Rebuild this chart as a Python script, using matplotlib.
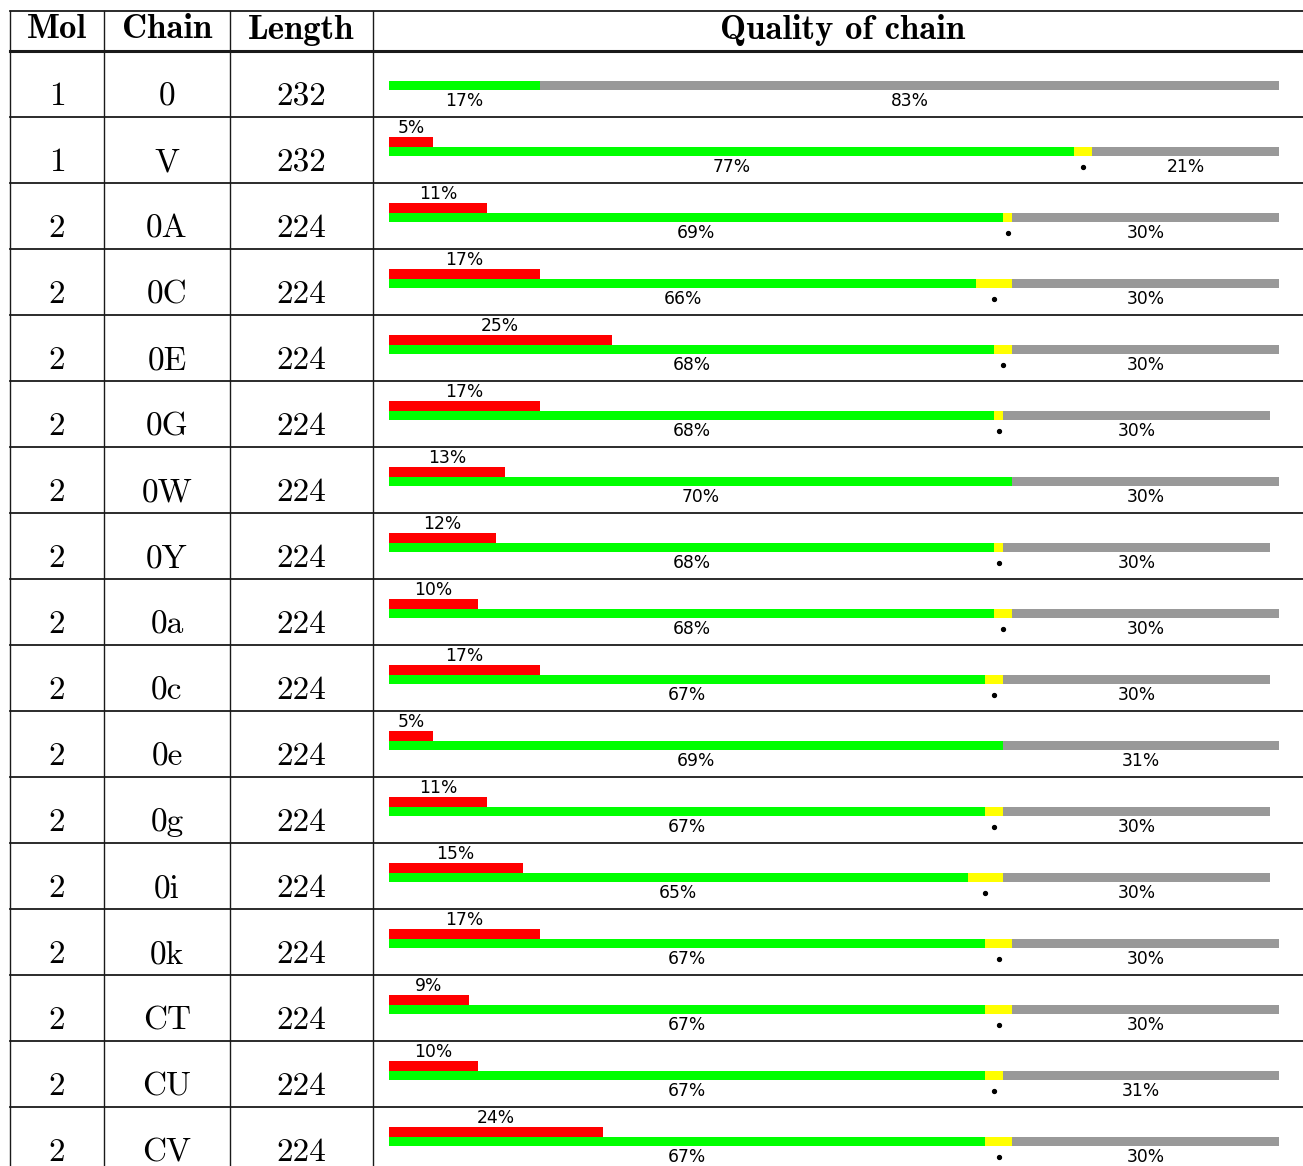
import matplotlib
matplotlib.use("Agg")
import matplotlib.pyplot as plt

# Per-chain summary
mol = [1, 1, 2, 2, 2, 2, 2, 2, 2, 2, 2, 2, 2, 2, 2, 2, 2]
chains = ["0", "V", "0A", "0C", "0E", "0G", "0W", "0Y", "0a", "0c",
          "0e", "0g", "0i", "0k", "CT", "CU", "CV"]
lengths = [232, 232, 224, 224, 224, 224, 224, 224, 224, 224,
           224, 224, 224, 224, 224, 224, 224]

# Quality breakdown (percent of residues)
red_pct = [0, 5, 11, 17, 25, 17, 13, 12, 10, 17, 5, 11, 15, 17, 9, 10, 24]
green_pct = [17, 77, 69, 66, 68, 68, 70, 68, 68, 67, 69, 67, 65, 67, 67, 67, 67]
yellow_pct = [0, 2, 1, 4, 2, 1, 0, 1, 2, 2, 0, 2, 4, 3, 3, 2, 3]
grey_pct = [83, 21, 30, 30, 30, 30, 30, 30, 30, 30, 31, 30, 30, 30, 30, 31, 30]

headers = ["Mol", "Chain", "Length", "Quality of chain"]

W, H = 1303, 1166
ROW_H = 66.0
TOP = 51.0  # pixel y of the header's lower rule


def row_of(py):
    return (py - TOP) / ROW_H


fig = plt.figure(figsize=(W / 100, H / 100), dpi=100)

# --- table grid and cell text -------------------------------------------
tab = fig.add_axes([0, 0, 1, 1])
tab.set_xlim(0, W)
tab.set_ylim(row_of(H), row_of(0))
tab.axis("off")

col_edges = [10, 104, 230, 373, 1313]
line_col = "#1a1a1a"
y_top = row_of(11)
y_bot = row_of(H + 5)
for x in col_edges[:-1]:
    tab.plot([x, x], [y_top, y_bot], color=line_col, lw=1.0, clip_on=False)
tab.plot([10, W], [y_top, y_top], color=line_col, lw=1.3)
tab.plot([10, W], [row_of(50.5), row_of(50.5)], color=line_col, lw=2.2)
n = len(chains)
for i in range(1, n):
    tab.plot([10, W], [i, i], color=line_col, lw=1.3)

centers = [(col_edges[k] + col_edges[k + 1]) / 2 for k in range(4)]
for k, h in enumerate(headers):
    tab.text(centers[k], row_of(38.5), h, ha="center", va="baseline",
             fontfamily="cmb10", fontsize=25, color="black")

for i in range(n):
    yb = i + 54.0 / ROW_H
    for k, val in enumerate([mol[i], chains[i], lengths[i]]):
        tab.text(centers[k], yb, str(val), ha="center", va="baseline",
                 fontfamily="cmr10", fontsize=24, color="black")

# --- quality bars --------------------------------------------------------
bx0, bx1 = 389, 1279
bars = fig.add_axes([bx0 / W, 0, (bx1 - bx0) / W, 1])
bars.set_xlim(0, 100)
bars.set_ylim(row_of(H), row_of(0))
bars.axis("off")

rows = list(range(n))
g_y = [r + 34.4 / ROW_H for r in rows]
r_y = [r + 25.0 / ROW_H for r in rows]
bh = 9.4 / ROW_H

yellow_left = [g for g in green_pct]
grey_left = [g + y for g, y in zip(green_pct, yellow_pct)]

bars.barh(g_y, green_pct, height=bh, left=0, color="#00ff00", linewidth=0)
bars.barh(g_y, yellow_pct, height=bh, left=yellow_left, color="#ffff00", linewidth=0)
bars.barh(g_y, grey_pct, height=bh, left=grey_left, color="#999999", linewidth=0)
bars.barh(r_y, red_pct, height=bh, left=0, color="#ff0000", linewidth=0)

lab_kw = dict(ha="center", va="baseline", fontsize=12.3,
              fontfamily="DejaVu Sans", color="black", clip_on=False)
for i in rows:
    base = i + 55.0 / ROW_H
    bars.text(green_pct[i] / 2, base, f"{green_pct[i]}%", **lab_kw)
    bars.text(grey_left[i] + grey_pct[i] / 2, base, f"{grey_pct[i]}%", **lab_kw)
    if red_pct[i] > 0:
        bars.text(red_pct[i] / 2, i + 16.0 / ROW_H, f"{red_pct[i]}%", **lab_kw)
    if yellow_pct[i] > 0:
        bars.plot(yellow_left[i] + yellow_pct[i] / 2, i + 49.5 / ROW_H,
                  marker="o", ms=2.8, color="black", clip_on=False)

fig.savefig("out.png", dpi=100)
